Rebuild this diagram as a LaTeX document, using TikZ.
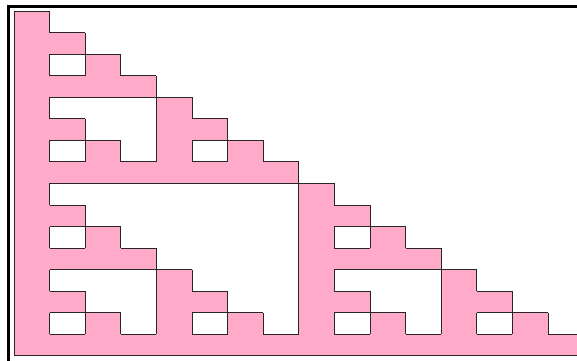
\documentclass[tikz,border=0pt]{standalone}
\definecolor{pinkfill}{RGB}{255,170,200}
\begin{document}
\begin{tikzpicture}[x=1pt,y=-1pt,
  declare function={bt(\m,\k)=mod(floor(\m/\k),2);
    pk(\m,\n)=(\n>=0)*(\n<=\m)*(\m<=15)*(1-bt(\n,1)*(1-bt(\m,1)))*(1-bt(\n,2)*(1-bt(\m,2)))*(1-bt(\n,4)*(1-bt(\m,4)))*(1-bt(\n,8)*(1-bt(\m,8)));},
  cell/.style={fill=pinkfill},
  edge/.style={draw=black!85,line width=1pt,line cap=square}]
\clip (0,0) rectangle (577,360);
\draw[line width=2.4pt] (8.5,6.5) rectangle (600,380);
\begin{scope}[shift={(14pt,-11pt)},x=35.6pt,y=-21.56pt]
\foreach \R in {0,...,15}{
  \foreach \C in {0,...,\R}{
    \pgfmathtruncatemacro\p{pk(\R,\C)}
    \ifnum\p=1 \fill[cell] (\C,\R) rectangle (\C+1,\R+1); \fi
  }
}
\foreach \R in {0,...,15}{
  \foreach \C in {0,...,\R}{
    \pgfmathtruncatemacro\p{pk(\R,\C)}
    \ifnum\p=1
      \pgfmathtruncatemacro\pt{pk(\R-1,\C)}
      \pgfmathtruncatemacro\pb{pk(\R+1,\C)}
      \pgfmathtruncatemacro\pl{pk(\R,\C-1)}
      \pgfmathtruncatemacro\pr{pk(\R,\C+1)}
      \ifnum\pt=0 \draw[edge] (\C,\R) -- (\C+1,\R); \fi
      \ifnum\pb=0 \draw[edge] (\C,\R+1) -- (\C+1,\R+1); \fi
      \ifnum\pl=0 \draw[edge] (\C,\R) -- (\C,\R+1); \fi
      \ifnum\pr=0 \draw[edge] (\C+1,\R) -- (\C+1,\R+1); \fi
    \fi
  }
}
\end{scope}
\end{tikzpicture}
\end{document}
